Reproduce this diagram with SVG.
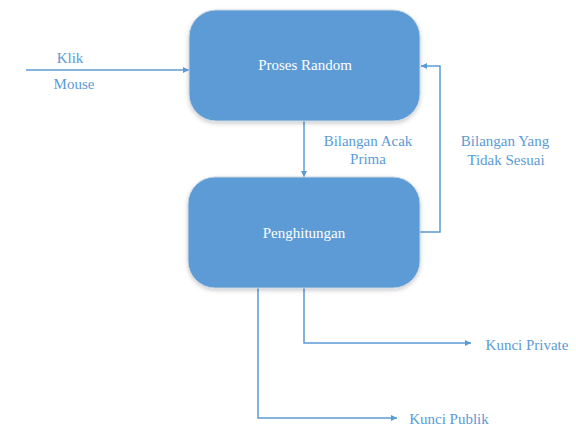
<svg xmlns="http://www.w3.org/2000/svg" width="576" height="427" viewBox="0 0 576 427">
<defs>
<style>
.box{fill:#5B9BD5;stroke:#c9d6e3;stroke-width:1}
.in{font-family:"Liberation Serif","Times New Roman",serif;font-size:15px;fill:#ffffff;text-anchor:middle;dominant-baseline:central}
.lbl{font-family:"Liberation Serif","Times New Roman",serif;font-size:15px;fill:#5B9BD5;text-anchor:middle;dominant-baseline:central}
.ln{fill:none;stroke:#5B9BD5;stroke-width:1.5}
</style>
<marker id="ah" viewBox="0 0 10 10" refX="10" refY="5" markerWidth="6" markerHeight="6" markerUnits="userSpaceOnUse" orient="auto">
<path d="M0,0 L10,5 L0,10 z" fill="#5B9BD5"/>
</marker>
<filter id="sh" x="-10%" y="-10%" width="120%" height="125%">
<feDropShadow dx="0" dy="2" stdDeviation="2" flood-color="#000" flood-opacity="0.2"/>
</filter>
</defs>
<g id="connectors">
<line class="ln" x1="26" y1="70" x2="189" y2="70" marker-end="url(#ah)"/>
<line class="ln" x1="304" y1="121" x2="304" y2="177" marker-end="url(#ah)"/>
<polyline class="ln" points="420,232 440,232 440,66 421,66" marker-end="url(#ah)"/>
<polyline class="ln" points="304,288 304,343 471,343" marker-end="url(#ah)"/>
<polyline class="ln" points="258,288 258,418 397,418" marker-end="url(#ah)"/>
</g>
<g id="proses-random">
<rect class="box" x="189" y="10" width="231" height="111" rx="27" filter="url(#sh)"/>
<text class="in" x="305" y="65">Proses Random</text>
</g>
<g id="penghitungan">
<rect class="box" x="188" y="177" width="232" height="111" rx="27" filter="url(#sh)"/>
<text class="in" x="304" y="233">Penghitungan</text>
</g>
<g id="labels">
<text class="lbl" x="70" y="58">Klik</text>
<text class="lbl" x="74" y="84">Mouse</text>
<text class="lbl" x="368" y="141">Bilangan Acak</text>
<text class="lbl" x="368" y="159">Prima</text>
<text class="lbl" x="505" y="141">Bilangan Yang</text>
<text class="lbl" x="506" y="160">Tidak Sesuai</text>
<text class="lbl" x="527" y="345">Kunci Private</text>
<text class="lbl" x="449" y="419">Kunci Publik</text>
</g>
</svg>
